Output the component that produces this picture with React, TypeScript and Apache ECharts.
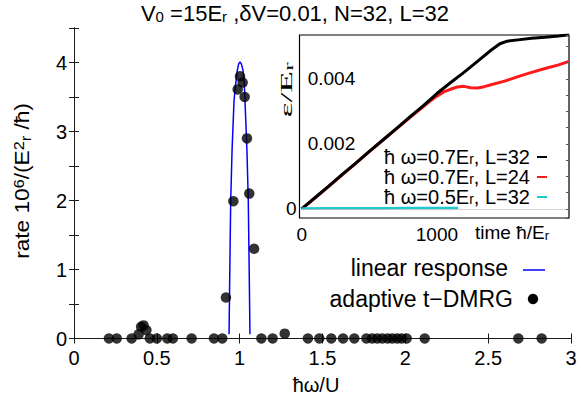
import React, { useEffect, useRef } from 'react';
import * as echarts from 'echarts';

const SANS = "'Liberation Sans', Arial, sans-serif";
const SERIF = "'Liberation Serif', 'Times New Roman', serif";

// Main plot tick labels
const xTickLabels = ['0', '0.5', '1', '1.5', '2', '2.5', '3'];
const yTickLabels = ['0', '1', '2', '3', '4'];
// Inset tick labels
const insetXTickLabels = ['0', '1000'];
const insetYInnerLabels = ['0.002', '0.004'];
const insetYOuterLabels = ['0'];

// adaptive t-DMRG points (ħω/U, rate)
const dmrgX = [0.211, 0.258, 0.348, 0.39, 0.405, 0.42, 0.437, 0.458, 0.5, 0.563, 0.597, 0.71, 0.845, 0.895,
  0.917, 0.962, 0.988, 1.002, 1.018, 1.03, 1.044, 1.058, 1.087, 1.131, 1.199, 1.272, 1.412, 1.481, 1.553,
  1.624, 1.692, 1.765, 1.8, 1.831, 1.861, 1.893, 1.921, 1.951, 1.978, 2.008, 2.117, 2.682, 2.823];
const dmrgY = [0, 0, 0, 0.06, 0.17, 0.19, 0.12, 0, 0, 0, 0, 0, 0, 0,
  0.594, 1.99, 3.61, 3.8, 3.71, 3.5, 2.9, 2.1, 1.3, 0, 0, 0.07, 0, 0, 0,
  0, 0, 0, 0, 0, 0, 0, 0, 0, 0, 0, 0, 0, 0];

// linear response curve
const linRespX = [0.936, 0.939, 0.942, 0.946, 0.954, 0.966, 0.976, 0.986, 0.994, 1.002, 1.01, 1.02, 1.028,
  1.036, 1.044, 1.052, 1.056, 1.059, 1.062];
const linRespY = [0.06, 0.7, 1.27, 2.0, 2.72, 3.45, 3.69, 3.89, 3.98, 4.01, 3.98, 3.89, 3.69,
  3.21, 2.72, 2.0, 1.27, 0.7, 0.06];

// inset: energy vs time
const tBlack = [0, 100, 200, 300, 400, 500, 600, 700, 800, 900, 1000, 1100, 1200, 1300, 1400, 1466, 1520,
  1600, 1700, 1800, 1900, 1977];
const eBlack = [0, 0.00035, 0.0007, 0.00106, 0.00141, 0.00177, 0.00212, 0.00247, 0.00283, 0.00318, 0.00355,
  0.00388, 0.0042, 0.00454, 0.00488, 0.00508, 0.00516, 0.0052, 0.00525, 0.00528, 0.00532, 0.00536];
const tRed = [0, 100, 200, 300, 400, 500, 600, 700, 800, 900, 950, 1000, 1050, 1100, 1150, 1200, 1250, 1300,
  1350, 1400, 1500, 1600, 1700, 1800, 1900, 1977];
const eRed = [0, 0.00034, 0.00069, 0.00105, 0.0014, 0.00176, 0.00211, 0.00246, 0.00281, 0.00315, 0.00332,
  0.00347, 0.0036, 0.00368, 0.00375, 0.00377, 0.00373, 0.00372, 0.00376, 0.00382, 0.00393, 0.00407, 0.0042,
  0.00432, 0.00443, 0.00454];
const tCyan = [0, 200, 400, 600, 800, 1000, 1157];
const eCyan = [0.00001, 0.00002, 0.00002, 0.00002, 0.00003, 0.00003, 0.00003];

const nameLin = 'linear response';
const nameDmrg = 'adaptive t−DMRG';
const nameBlack = 'ħ ω=0.7E_r, L=32';
const nameRed = 'ħ ω=0.7E_r, L=24';
const nameCyan = 'ħ ω=0.5E_r, L=32';

const zip = (a: number[], b: number[]) => a.map((v, i) => [v, b[i]]);
const pick = (labels: string[], v: number) => {
  const m = labels.find((s) => Math.abs(parseFloat(s) - v) < 1e-7);
  return m === undefined ? '' : m;
};

const AX = '#1a1a1a';

function richSet(size: number, lh: number, family = SANS) {
  return {
    n: { fontSize: size, lineHeight: lh, fontFamily: family, color: '#000' },
    sb: { fontSize: Math.round(size * 0.7), lineHeight: 6, fontFamily: family, color: '#000', verticalAlign: 'bottom' },
    sp: { fontSize: Math.round(size * 0.7), lineHeight: 6, fontFamily: family, color: '#000', verticalAlign: 'top' },
  };
}

export default function App() {
  const ref = useRef<HTMLDivElement>(null);
  useEffect(() => {
    const chart = echarts.init(ref.current!, null, { renderer: 'svg' });
    const mainAxisCommon = {
      axisLine: { show: true, lineStyle: { color: AX, width: 1 } },
      axisTick: { show: true, inside: true, length: 5, lineStyle: { color: AX } },
      splitLine: { show: false },
    };
    const option: any = {
      animation: false,
      backgroundColor: '#fff',
      grid: [
        { left: 74, top: 28, width: 497, height: 310.5 },
        { left: 301.7, top: 35, width: 267.3, height: 183 },
      ],
      xAxis: [
        {
          gridIndex: 0, type: 'value', min: 0, max: 3, interval: 0.5, position: 'bottom',
          ...mainAxisCommon,
          axisLabel: { fontSize: 20, fontFamily: SANS, color: '#000', margin: 9, formatter: (v: number) => pick(xTickLabels, v) },
        },
        {
          gridIndex: 0, type: 'value', min: 0, max: 3, interval: 0.5, position: 'top',
          ...mainAxisCommon, axisLabel: { show: false },
        },
        {
          gridIndex: 1, type: 'value', min: 0, max: 1977, interval: 1000, position: 'bottom', z: 5,
          axisLine: { show: false }, axisTick: { show: false }, splitLine: { show: false },
          axisLabel: { fontSize: 19, fontFamily: SANS, color: '#000', margin: 7, formatter: (v: number) => pick(insetXTickLabels, v) },
        },
      ],
      yAxis: [
        {
          gridIndex: 0, type: 'value', min: 0, max: 4.5, interval: 0.5, position: 'left',
          ...mainAxisCommon,
          axisLabel: { fontSize: 20, fontFamily: SANS, color: '#000', margin: 7, formatter: (v: number) => pick(yTickLabels, v) },
        },
        {
          gridIndex: 0, type: 'value', min: 0, max: 4.5, interval: 0.5, position: 'right',
          ...mainAxisCommon, axisLabel: { show: false },
        },
        {
          gridIndex: 1, type: 'value', min: -0.00028, max: 0.00535, position: 'left', z: 5,
          axisLine: { show: false }, axisTick: { show: false }, splitLine: { show: false },
          axisLabel: { inside: true, fontSize: 19, fontFamily: SANS, color: '#000', margin: 6, formatter: (v: number) => pick(insetYInnerLabels, v) },
        },
        {
          gridIndex: 1, type: 'value', min: -0.00028, max: 0.00535, position: 'left', z: 5,
          axisLine: { show: false }, axisTick: { show: false }, splitLine: { show: false },
          axisLabel: { fontSize: 19, fontFamily: SANS, color: '#000', margin: 5, formatter: (v: number) => pick(insetYOuterLabels, v) },
        },
        {
          gridIndex: 1, type: 'value', min: -0.00028, max: 0.00535, position: 'right', z: 5,
          axisLine: { show: false }, splitLine: { show: false }, axisLabel: { show: false },
          axisTick: { show: true, inside: true, length: 3, lineStyle: { color: '#555' } },
          minorTick: { show: true, splitNumber: 2, length: 3, lineStyle: { color: '#555' } },
        },
      ],
      legend: [
        {
          data: [nameBlack, nameRed, nameCyan].map((n) => ({ name: n, icon: 'rect' })),
          orient: 'vertical', align: 'right', right: 34, top: 147, padding: 0, itemGap: 0,
          itemWidth: 10, itemHeight: 2, selectedMode: false,
          formatter: (name: string) => '{n|' + name.replace('_r', '}{sb|r}{n|') + '}',
          textStyle: { fontSize: 20, fontFamily: SANS, color: '#000', padding: [0, 2, 0, 0], rich: richSet(20, 18) },
        },
      ],
      series: [
        {
          name: nameLin, type: 'line', xAxisIndex: 0, yAxisIndex: 0, symbol: 'none',
          data: zip(linRespX, linRespY), color: '#0000ff', lineStyle: { color: '#0000ff', width: 1.5 }, z: 2,
        },
        {
          name: nameDmrg, type: 'scatter', xAxisIndex: 0, yAxisIndex: 0, symbol: 'circle', symbolSize: 10.5,
          data: zip(dmrgX, dmrgY), itemStyle: { color: '#000' }, clip: false, z: 3,
        },
        {
          name: nameRed, type: 'line', xAxisIndex: 2, yAxisIndex: 2, symbol: 'none',
          data: zip(tRed, eRed), color: '#ff1a1a', lineStyle: { color: '#ff1a1a', width: 3 }, z: 3,
        },
        {
          name: nameBlack, type: 'line', xAxisIndex: 2, yAxisIndex: 2, symbol: 'none',
          data: zip(tBlack, eBlack), color: '#000', lineStyle: { color: '#000', width: 3 }, z: 4,
        },
        {
          name: nameCyan, type: 'line', xAxisIndex: 2, yAxisIndex: 2, symbol: 'none',
          data: zip(tCyan, eCyan), color: '#20c8d0', lineStyle: { color: '#20c8d0', width: 2.5 }, z: 4,
          markLine: {
            silent: true, symbol: 'none', label: { show: false },
            lineStyle: { color: '#aaa', type: 'dotted', width: 1 },
            data: [{ yAxis: 0 }],
          },
        },
      ],
      graphic: [
        {
          type: 'rect', z: 1, shape: { x: 299.5, y: 35, width: 269.5, height: 183 },
          style: { fill: '#fff', stroke: '#000', lineWidth: 1.2 },
        },
        // main legend
        {
          type: 'text', x: 508, y: 268, z: 10,
          style: { text: nameLin, align: 'right', verticalAlign: 'middle', fontSize: 23, fontFamily: SANS, fill: '#000' },
        },
        {
          type: 'line', z: 10, shape: { x1: 523, y1: 270, x2: 545, y2: 270 },
          style: { stroke: '#0000ff', lineWidth: 1.5 },
        },
        {
          type: 'text', x: 513, y: 299, z: 10,
          style: { text: nameDmrg, align: 'right', verticalAlign: 'middle', fontSize: 23, fontFamily: SANS, fill: '#000' },
        },
        {
          type: 'circle', z: 10, shape: { cx: 533, cy: 299, r: 5.2 },
          style: { fill: '#000' },
        },
        // title
        {
          type: 'text', x: 295, y: 13, z: 10,
          style: {
            text: '{n|V}{sb|0}{n| =15E}{sb|r}{n| ,δV=0.01, N=32, L=32}', rich: richSet(22, 22),
            align: 'center', verticalAlign: 'middle', fontSize: 22, fontFamily: SANS, fill: '#000',
          },
        },
        // y axis title
        {
          type: 'text', x: 22, y: 181, rotation: Math.PI / 2, scaleX: 1.08, z: 10,
          style: {
            text: '{n|rate 10}{sp|6}{n|/(E}{sp|2}{sb|r}{n| /ħ)}', rich: richSet(21, 22),
            align: 'center', verticalAlign: 'middle', fontSize: 21, fontFamily: SANS, fill: '#000',
          },
        },
        // x axis title
        {
          type: 'text', x: 316, y: 385, z: 10,
          style: { text: 'ħω/U', align: 'center', verticalAlign: 'middle', fontSize: 20, fontFamily: SANS, fill: '#000' },
        },
        // inset y title
        {
          type: 'text', x: 286, y: 90, rotation: Math.PI / 2, scaleX: 2.1, z: 10,
          style: {
            text: '{n|ε/E}{sb|r}', rich: richSet(17, 18, SERIF),
            align: 'center', verticalAlign: 'middle', fontSize: 17, fontFamily: SERIF, fill: '#000',
          },
        },
        // inset x title
        {
          type: 'text', x: 475, y: 232, z: 10,
          style: {
            text: '{n|time ħ/E}{sb|r}', rich: richSet(19, 20),
            align: 'left', verticalAlign: 'middle', fontSize: 19, fontFamily: SANS, fill: '#000',
          },
        },
      ],
    };
    chart.setOption(option);
    return () => chart.dispose();
  }, []);
  return <div ref={ref} style={{ position: 'fixed', left: 0, top: 0, width: 581, height: 397 }} />;
}
